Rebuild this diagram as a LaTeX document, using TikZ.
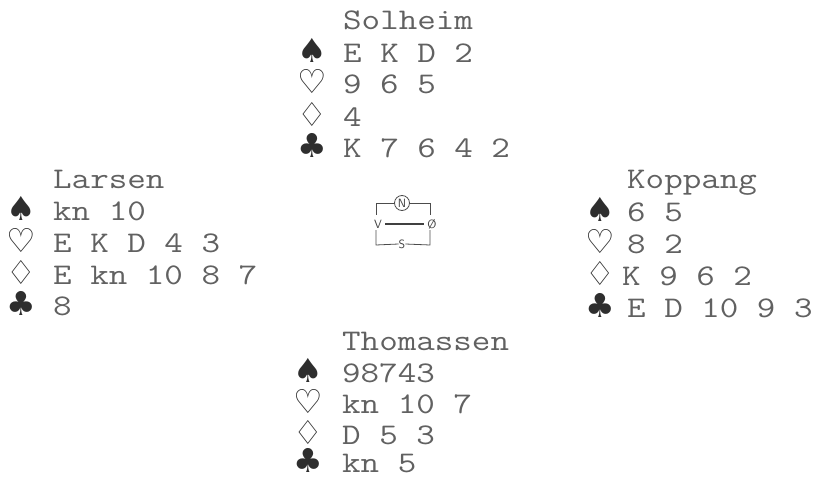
\documentclass[tikz,border=0pt]{standalone}
\usepackage{fontspec}
\setmonofont{Latin Modern Mono}[FakeStretch=1.2]
\newfontfamily\suitfont{DejaVu Sans}
\begin{document}
\begin{tikzpicture}[x=1pt,y=-1pt,
  txt/.style={anchor=base west,inner sep=0pt,text=black!62,font=\ttfamily\fontsize{30}{30}\selectfont},
  suit/.style={anchor=base,inner sep=0pt,text=black!82,font=\suitfont\fontsize{33}{33}\selectfont},
  cmp/.style={inner sep=0pt,text=black!75,font=\sffamily\fontsize{12}{12}\selectfont},
  brk/.style={draw=black!70,line width=0.8pt}]
\useasboundingbox (0,0) rectangle (817,479);
% North
\node[txt] (nname) at (343,30) {Solheim};
\node[suit] (ns) at (312,62) {♠}; \node[txt] (nst) at (343,62) {E K D 2};
\node[suit] (nh) at (312,93) {♡}; \node[txt] (nht) at (343,93) {9 6 5};
\node[suit] (nd) at (312,126) {♢}; \node[txt] (ndt) at (343,126) {4};
\node[suit] (nc) at (312,157) {♣}; \node[txt] (nct) at (343,157) {K 7 6 4 2};
% West
\node[txt] (wname) at (53,188) {Larsen};
\node[suit] (ws) at (21,220) {♠}; \node[txt] (wst) at (53,220) {kn 10};
\node[suit] (wh) at (21,252) {♡}; \node[txt] (wht) at (53,252) {E K D 4 3};
\node[suit] (wd) at (21,284) {♢}; \node[txt] (wdt) at (53,284) {E kn 10 8 7};
\node[suit] (wc) at (21,315) {♣}; \node[txt] (wct) at (53,315) {8};
% East
\node[txt] (ename) at (627,188) {Koppang};
\node[suit] (es) at (600,221) {♠}; \node[txt] (est) at (627,221) {6 5};
\node[suit] (eh) at (600,253) {♡}; \node[txt] (eht) at (627,253) {8 2};
\node[suit] (ed) at (600,285) {♢}; \node[txt] (edt) at (622,285) {K 9 6 2};
\node[suit] (ec) at (600,317) {♣}; \node[txt] (ect) at (627,317) {E D 10 9 3};
% South
\node[txt] (sname) at (342,350) {Thomassen};
\node[suit] (ss) at (308,382) {♠}; \node[txt] (sst) at (342,382) {98743};
\node[suit] (sh) at (308,413) {♡}; \node[txt] (sht) at (342,413) {kn 10 7};
\node[suit] (sd) at (308,444) {♢}; \node[txt] (sdt) at (342,444) {D 5 3};
\node[suit] (sc) at (308,472) {♣}; \node[txt] (sct) at (342,472) {kn 5};
% Compass
\node[cmp,draw=black!70,line width=0.8pt,circle,minimum size=15pt] (cn) at (402,203) {N};
\node[cmp] (cv) at (378,224) {V};
\node[cmp] (co) at (432,224) {Ø};
\node[cmp] (cs) at (402,244) {S};
\draw[brk] (cn.west) -- (376,203) -- (376,215);
\draw[brk] (cn.east) -- (430,203) -- (430,215);
\draw[brk] (376,230) -- (376,245) -- (cs.west);
\draw[brk] (cs.east) -- (430,245) -- (430,230);
\draw[draw=black!75,line width=1.6pt] (cv.east) ++(3,0) -- ([xshift=-3pt]co.west);
\end{tikzpicture}
\end{document}
